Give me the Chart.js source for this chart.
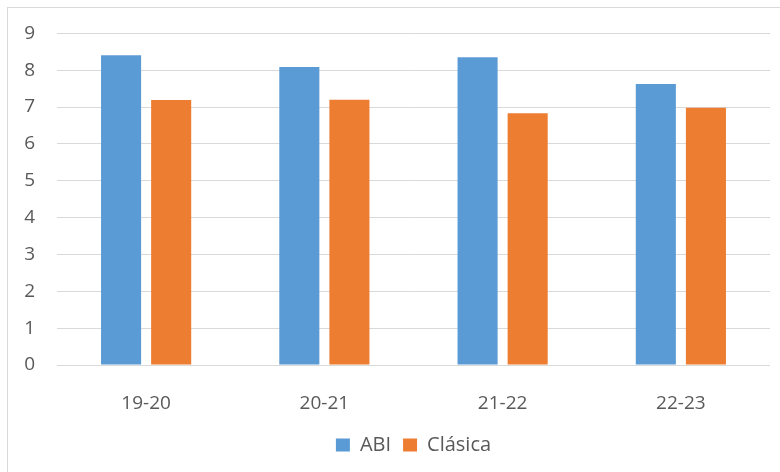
<!DOCTYPE html>
<html>
<head>
<meta charset="utf-8">
<script src="https://cdn.jsdelivr.net/npm/chart.js@4"></script>
<style>
  html, body { margin: 0; padding: 0; background: #fff; overflow: hidden; }
  #wrap { position: relative; width: 780px; height: 472px; }
  #frame { position: absolute; left: 7px; top: 7px; width: 800px; height: 500px; border: 1px solid #d9d9d9; box-sizing: border-box; }
  #chart { position: absolute; left: 0; top: 0; }
</style>
</head>
<body>
<div id="wrap">
  <div id="frame"></div>
  <canvas id="chart" width="780" height="472"></canvas>
</div>
<script>
// course years on the x axis
const years = ['19-20', '20-21', '21-22', '22-23'];
const abi = [8.41, 8.09, 8.35, 7.63];
const clasica = [7.19, 7.2, 6.83, 6.98];
const yTicks = [0, 1, 2, 3, 4, 5, 6, 7, 8, 9];

const font = { family: '"Open Sans", Lato, sans-serif', size: 19 };
const legendFont = { family: '"Open Sans", Lato, sans-serif', size: 20 };
const grey = '#595959';

// center the legend under the plot area instead of the whole canvas
const legendShift = {
  id: 'legendShift',
  afterLayout(chart) {
    const lg = chart.legend;
    const dx = (chart.chartArea.left + chart.chartArea.right) / 2 - (lg.left + lg.right) / 2;
    lg.left += dx;
    lg.right += dx;
  }
};

new Chart(document.getElementById('chart'), {
  type: 'bar',
  data: {
    labels: years,
    datasets: [
      { label: 'ABI', data: abi, backgroundColor: '#5B9BD5' },
      { label: 'Clásica', data: clasica, backgroundColor: '#ED7D31' }
    ]
  },
  options: {
    responsive: false,
    animation: false,
    categoryPercentage: 0.562,
    barPercentage: 0.8,
    layout: { padding: { top: 33, right: 10, bottom: 7, left: 0 } },
    plugins: {
      tooltip: { enabled: false },
      legend: {
        position: 'bottom',
        labels: { color: grey, font: legendFont, boxWidth: 14, boxHeight: 13, padding: 12 }
      }
    },
    scales: {
      x: {
        grid: { display: false },
        border: { display: false },
        ticks: { color: grey, font: font, padding: 19 },
        afterFit: (s) => { s.height = 58; }
      },
      y: {
        min: 0,
        max: 9,
        afterBuildTicks: (s) => { s.ticks = yTicks.map(v => ({ value: v })); },
        grid: { color: '#d9d9d9', lineWidth: 1, drawTicks: false },
        border: { display: false },
        ticks: { color: grey, font: font, padding: 22 },
        afterFit: (s) => { s.width = 57; }
      }
    }
  },
  plugins: [legendShift]
});
</script>
</body>
</html>
